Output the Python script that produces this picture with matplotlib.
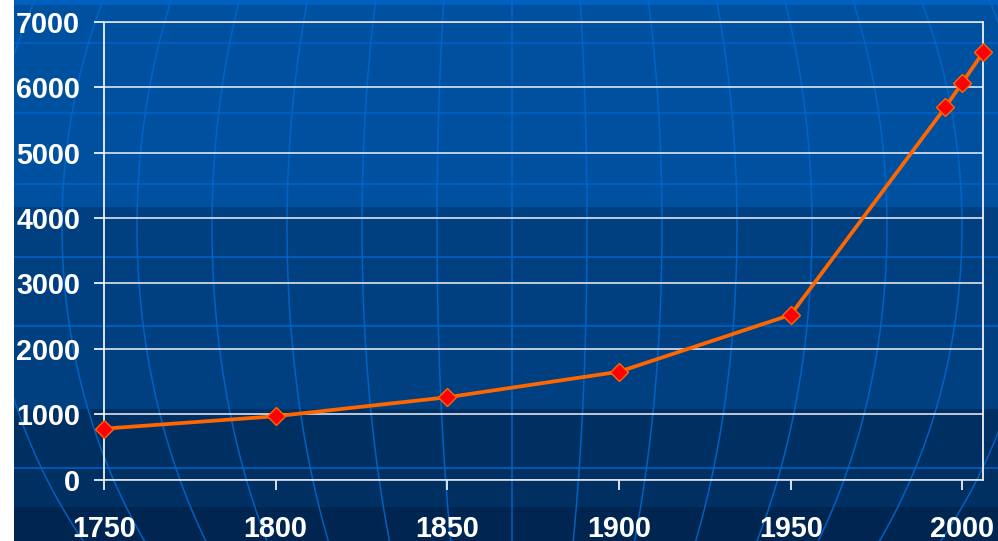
import matplotlib
matplotlib.use('Agg')
import matplotlib.pyplot as plt
import numpy as np

# ---- data ----
years = [1750, 1800, 1850, 1900, 1950, 1995, 2000, 2006]
population = [780, 970, 1260, 1650, 2520, 5690, 6070, 6530]
x_ticks = [1750, 1800, 1850, 1900, 1950, 2000]
y_ticks = [0, 1000, 2000, 3000, 4000, 5000, 6000, 7000]

plt.rcParams['font.family'] = ['Liberation Sans', 'DejaVu Sans']
plt.rcParams['font.weight'] = 'bold'

W, H = 998, 541
fig = plt.figure(figsize=(W / 100, H / 100), dpi=100, facecolor='white')

# ---- decorative globe background (pixel coordinates) ----
bg = fig.add_axes([14 / W, 0, 1 - 14 / W, 1], zorder=0)
bg.set_xlim(14, W)
bg.set_ylim(H, 0)
bg.axis('off')
bands = [(0, 5, '#0060c0'), (5, 207, '#0050a0'), (207, 409, '#004080'),
         (409, 507, '#003062'), (507, 541, '#002550')]
for y0, y1, c in bands:
    bg.axhspan(y0, y1, color=c, lw=0)
for y in [42.7, 112.7, 184.3, 256.7, 326, 468]:
    bg.axhline(y, color='#0062c8', lw=1.1)
yy = np.linspace(0, H, 300)
yc, R, cx = 227, 544, 512
wv = np.sqrt(1 - ((yy - yc) / R) ** 2)
for k in range(-7, 8):
    bg.plot(cx + 75 * k * wv, yy, color='#0066cc', lw=1.1, alpha=0.9)

# ---- main chart ----
ax = fig.add_axes([104 / W, 1 - 479.7 / H, (983 - 104) / W, (479.7 - 21.7) / H], zorder=1)
ax.patch.set_alpha(0)
ax.set_xlim(1750, 2006)
ax.set_ylim(0, 7000)
ax.set_xticks(x_ticks)
ax.set_yticks(y_ticks)
ax.yaxis.grid(True, color='#dfe4ee', lw=1.2)
ax.set_axisbelow(True)
for s in ['left', 'right']:
    ax.spines[s].set_color('white')
    ax.spines[s].set_linewidth(1.2)
for s in ['top', 'bottom']:
    ax.spines[s].set_color('#dfe4ee')
    ax.spines[s].set_linewidth(1.2)
ax.tick_params(axis='both', colors='white', length=7.2, width=1.2, direction='out',
               labelsize=20.7)
ax.tick_params(axis='x', pad=18.5)
ax.tick_params(axis='y', pad=10)
for lab in ax.get_xticklabels() + ax.get_yticklabels():
    lab.set_fontweight('bold')

ax.plot(years, population, color='#ff6600', lw=2.7, marker='D', markersize=9.5,
        markerfacecolor='#ff0000', markeredgecolor='#ff6600', markeredgewidth=1,
        clip_on=False, zorder=5)

fig.savefig('out.png', dpi=100, facecolor='white')
